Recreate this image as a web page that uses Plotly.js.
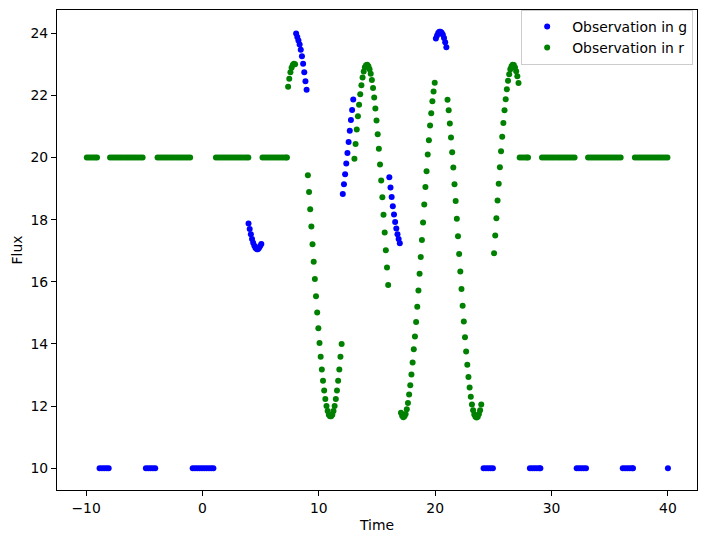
<!DOCTYPE html>
<html>
<head>
<meta charset="utf-8">
<script src="https://cdn.plot.ly/plotly-3.0.1.min.js"></script>
<style>html,body{margin:0;padding:0;background:#fff;}#chart{width:707px;height:543px;}</style>
</head>
<body>
<div id="chart"></div>
<script>
// Observation in g : times and fluxes (grouped by observing window)
const gTime = [
  -8.84, -8.64, -8.44, -8.24, -8.06,
  -4.86, -4.66, -4.46, -4.26, -4.06,
  -0.84, -0.64, -0.44, -0.24, -0.04, 0.16, 0.36, 0.56, 0.76, 0.94,
  3.96, 4.06, 4.16, 4.26, 4.36, 4.46, 4.56, 4.66, 4.76, 4.86, 4.96, 5.06,
  8.05, 8.15, 8.25, 8.35, 8.45, 8.55, 8.65, 8.75, 8.85, 8.95,
  12.06, 12.16, 12.26, 12.36, 12.46, 12.56, 12.66, 12.76, 12.86, 12.96,
  16.06, 16.16, 16.26, 16.36, 16.46, 16.56, 16.66, 16.76, 16.86, 16.96,
  20.06, 20.16, 20.26, 20.36, 20.46, 20.56, 20.66, 20.76, 20.86, 20.96,
  24.16, 24.36, 24.56, 24.76, 24.96,
  28.14, 28.34, 28.54, 28.74, 28.94, 29.04,
  32.16, 32.36, 32.56, 32.76, 32.96,
  36.12, 36.32, 36.52, 36.72, 36.92, 37.0,
  40.0
];
const gFlux = [
  10, 10, 10, 10, 10,
  10, 10, 10, 10, 10,
  10, 10, 10, 10, 10, 10, 10, 10, 10, 10,
  17.88, 17.70, 17.53, 17.38, 17.26, 17.16, 17.09, 17.05, 17.05, 17.09, 17.15, 17.22,
  23.99, 23.88, 23.77, 23.64, 23.47, 23.26, 23.02, 22.75, 22.46, 22.18,
  18.83, 19.14, 19.46, 19.81, 20.15, 20.50, 20.86, 21.21, 21.53, 21.87,
  19.37, 19.04, 18.73, 18.43, 18.17, 17.93, 17.72, 17.53, 17.38, 17.24,
  23.83, 23.93, 24.01, 24.05, 24.05, 24.02, 23.95, 23.85, 23.71, 23.55,
  10, 10, 10, 10, 10,
  10, 10, 10, 10, 10, 10,
  10, 10, 10, 10, 10,
  10, 10, 10, 10, 10, 10,
  10
];

// Observation in r : times and fluxes (grouped by observing window)
const rTime = [
  -9.94, -9.76, -9.58, -9.40, -9.22, -9.06,
  -7.94, -7.74, -7.54, -7.34, -7.14, -6.94, -6.74, -6.54, -6.34, -6.14, -5.94, -5.74, -5.54, -5.34, -5.14,
  -3.86, -3.66, -3.46, -3.26, -3.06, -2.86, -2.66, -2.46, -2.26, -2.06, -1.86, -1.66, -1.46, -1.26, -1.06,
  1.16, 1.36, 1.56, 1.76, 1.96, 2.16, 2.36, 2.56, 2.76, 2.96, 3.16, 3.36, 3.56, 3.76, 3.94,
  5.16, 5.36, 5.56, 5.76, 5.96, 6.16, 6.36, 6.56, 6.76, 6.96, 7.16, 7.26,
  7.36, 7.46, 7.56, 7.66, 7.76, 7.86, 7.96,
  9.06, 9.16, 9.26, 9.36, 9.46, 9.56, 9.66, 9.76, 9.86, 9.96,
  10.06, 10.16, 10.26, 10.36, 10.46, 10.56, 10.66, 10.76, 10.86, 10.96,
  11.06, 11.16, 11.26, 11.36, 11.46, 11.56, 11.66, 11.76, 11.86, 11.96,
  13.06, 13.16, 13.26, 13.36, 13.46, 13.56, 13.66, 13.76, 13.86, 13.96,
  14.06, 14.16, 14.26, 14.36, 14.46, 14.56, 14.66, 14.76, 14.86, 14.96,
  15.06, 15.16, 15.26, 15.36, 15.46, 15.56, 15.66, 15.76, 15.86, 15.96,
  17.06, 17.16, 17.26, 17.36, 17.46, 17.56, 17.66, 17.76, 17.86, 17.96,
  18.06, 18.16, 18.26, 18.36, 18.46, 18.56, 18.66, 18.76, 18.86, 18.96,
  19.06, 19.16, 19.26, 19.36, 19.46, 19.56, 19.66, 19.76, 19.86, 19.96,
  21.06, 21.16, 21.26, 21.36, 21.46, 21.56, 21.66, 21.76, 21.86, 21.96,
  22.06, 22.16, 22.26, 22.36, 22.46, 22.56, 22.66, 22.76, 22.86, 22.96,
  23.06, 23.16, 23.26, 23.36, 23.46, 23.56, 23.66, 23.76, 23.86, 23.96,
  25.06, 25.16, 25.26, 25.36, 25.46, 25.56, 25.66, 25.76, 25.86, 25.96,
  26.06, 26.16, 26.26, 26.36, 26.46, 26.56, 26.66, 26.76, 26.86, 26.96,
  27.06, 27.16,
  27.26, 27.46, 27.66, 27.86, 27.98,
  29.18, 29.38, 29.58, 29.78, 29.98, 30.18, 30.38, 30.58, 30.78, 30.98, 31.18, 31.38, 31.58, 31.78, 31.98,
  33.14, 33.34, 33.54, 33.74, 33.94, 34.14, 34.34, 34.54, 34.74, 34.94, 35.14, 35.34, 35.54, 35.74, 35.94,
  37.16, 37.36, 37.56, 37.76, 37.96, 38.16, 38.36, 38.56, 38.76, 38.96, 39.16, 39.36, 39.56, 39.76, 39.96
];
const rFlux = [
  20, 20, 20, 20, 20, 20,
  20, 20, 20, 20, 20, 20, 20, 20, 20, 20, 20, 20, 20, 20, 20,
  20, 20, 20, 20, 20, 20, 20, 20, 20, 20, 20, 20, 20, 20, 20,
  20, 20, 20, 20, 20, 20, 20, 20, 20, 20, 20, 20, 20, 20, 20,
  20, 20, 20, 20, 20, 20, 20, 20, 20, 20, 20, 20,
  22.28, 22.54, 22.75, 22.89, 22.98, 23.02, 23.00,
  19.43, 18.89, 18.34, 17.78, 17.21, 16.65, 16.09, 15.54, 15.01, 14.51,
  14.03, 13.59, 13.18, 12.82, 12.50, 12.23, 12.00, 11.84, 11.72, 11.67,
  11.67, 11.72, 11.84, 12.00, 12.23, 12.50, 12.82, 13.18, 13.59, 14.00,
  19.96, 20.44, 20.90, 21.33, 21.70, 22.04, 22.33, 22.58, 22.77, 22.91,
  22.97, 22.99, 22.94, 22.84, 22.70, 22.50, 22.24, 21.93, 21.58, 21.19,
  20.75, 20.28, 19.78, 19.26, 18.72, 18.16, 17.59, 17.02, 16.46, 15.90,
  11.79, 11.69, 11.64, 11.67, 11.75, 11.90, 12.10, 12.37, 12.67, 13.02,
  13.40, 13.83, 14.24, 14.71, 15.20, 15.72, 16.26, 16.80, 17.35, 17.91,
  18.49, 19.05, 19.56, 20.10, 20.56, 21.03, 21.43, 21.81, 22.13, 22.41,
  21.86, 21.52, 21.10, 20.65, 20.17, 19.68, 19.14, 18.60, 18.03, 17.47,
  16.90, 16.33, 15.77, 15.23, 14.72, 14.22, 13.76, 13.33, 12.94, 12.60,
  12.30, 12.05, 11.87, 11.73, 11.66, 11.63, 11.66, 11.75, 11.87, 12.05,
  16.92, 17.49, 18.05, 18.62, 19.16, 19.69, 20.20, 20.67, 21.11, 21.52,
  21.88, 22.20, 22.47, 22.68, 22.84, 22.94, 22.99, 22.98, 22.90, 22.78,
  22.62, 22.40,
  20, 20, 20, 20, 20,
  20, 20, 20, 20, 20, 20, 20, 20, 20, 20, 20, 20, 20, 20, 20,
  20, 20, 20, 20, 20, 20, 20, 20, 20, 20, 20, 20, 20, 20, 20,
  20, 20, 20, 20, 20, 20, 20, 20, 20, 20, 20, 20, 20, 20, 20
];

const xTicks = [-10, 0, 10, 20, 30, 40];
const yTicks = [10, 12, 14, 16, 18, 20, 22, 24];

const FONT = 'DejaVu Sans, Liberation Sans, sans-serif';
const axisBase = {
  showline: true, linecolor: '#000', linewidth: 1, mirror: true,
  ticks: 'outside', ticklen: 5, tickwidth: 1, tickcolor: '#000',
  showgrid: false, zeroline: false, automargin: false,
  tickfont: {family: FONT, size: 13.9, color: '#000'}
};

const traces = [
  {x: gTime, y: gFlux, type: 'scatter', mode: 'markers', name: 'Observation in g',
   marker: {color: '#0000ff', size: 6}},
  {x: rTime, y: rFlux, type: 'scatter', mode: 'markers', name: 'Observation in r',
   marker: {color: '#008000', size: 6}}
];

const layout = {
  width: 707, height: 543,
  margin: {l: 57, r: 10, t: 10, b: 53},
  paper_bgcolor: '#fff', plot_bgcolor: '#fff',
  showlegend: true,
  xaxis: Object.assign({}, axisBase, {
    range: [-12.5, 42.5], tickvals: xTicks,
    title: {text: 'Time', font: {family: FONT, size: 13.9, color: '#000'}, standoff: 5}
  }),
  yaxis: Object.assign({}, axisBase, {
    range: [9.3, 24.75], tickvals: yTicks,
    title: {text: 'Flux', font: {family: FONT, size: 13.9, color: '#000'}, standoff: 4}
  }),
  legend: {
    x: 0.994, y: 1.0, xanchor: 'right', yanchor: 'top',
    bgcolor: 'rgba(255,255,255,0.8)', bordercolor: '#cccccc', borderwidth: 1,
    font: {family: FONT, size: 13.9, color: '#000'},
    itemwidth: 40, tracegroupgap: 0
  }
};

Plotly.newPlot('chart', traces, layout, {displayModeBar: false, staticPlot: true});
</script>
</body>
</html>
